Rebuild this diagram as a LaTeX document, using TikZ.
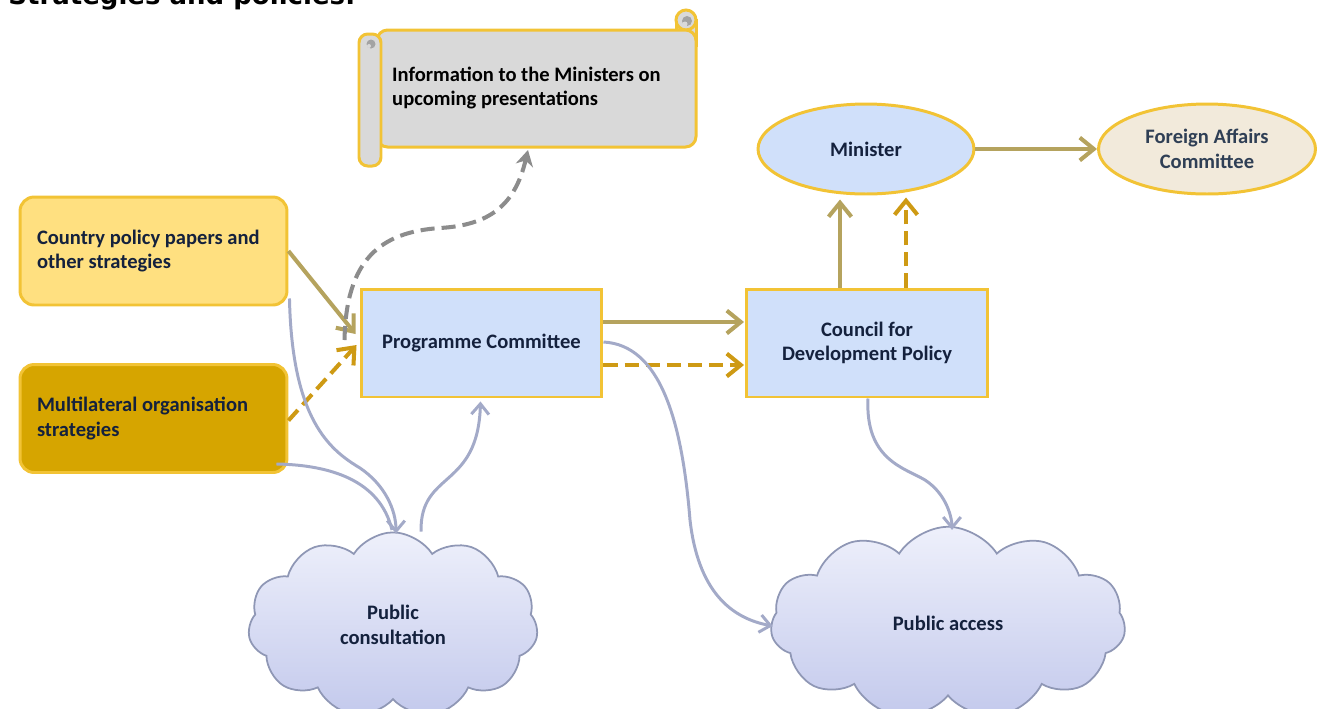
\documentclass[tikz,border=0pt]{standalone}
\usepackage{fontspec}
\setmainfont{Carlito}
\newfontfamily\titlefont{DejaVu Sans}
\usetikzlibrary{shapes.geometric,shapes.symbols,arrows.meta,calc}
\definecolor{goldline}{HTML}{F2C335}
\definecolor{khaki}{HTML}{B5A35E}
\definecolor{dgold}{HTML}{CE9A14}
\definecolor{dgray}{HTML}{8C8C8C}
\definecolor{bgray}{HTML}{A3AAC8}
\definecolor{navy}{HTML}{14213D}
\definecolor{slate}{HTML}{2F3F55}
\definecolor{lblue}{HTML}{D0E0FA}
\definecolor{lyellow}{HTML}{FFE080}
\definecolor{mgold}{HTML}{D6A500}
\definecolor{beige}{HTML}{F2EADB}
\definecolor{scrollgray}{HTML}{D9D9D9}
\definecolor{cloudline}{HTML}{8F97B5}
\definecolor{cloudtop}{HTML}{EEF0FB}
\definecolor{cloudbot}{HTML}{C3C9EC}
\begin{document}
\begin{tikzpicture}[x=0.02cm,y=-0.02cm,
  txt/.style={font=\bfseries\fontsize{11.7}{14}\selectfont, text=navy},
  box/.style={txt, draw=goldline, line width=1.7pt, minimum width=4.82cm, minimum height=2.16cm, fill=lblue, align=center},
  srcbox/.style={txt, draw=goldline, line width=1.7pt, rounded corners=8pt, minimum width=5.34cm, minimum height=2.16cm, text width=4.66cm, inner xsep=0.34cm, align=flush left},
  ell/.style={txt, ellipse, draw=goldline, line width=1.7pt, minimum width=4.32cm, minimum height=1.8cm, align=center},
  cloudst/.style={txt, cloud, cloud puffs=11, cloud puff arc=115, draw=cloudline, line width=1pt, top color=cloudtop, bottom color=cloudbot, align=center},
  kharr/.style={draw=khaki, line width=2.3pt, -{Straight Barb[length=8pt,width=13pt]}},
  goldarr/.style={draw=dgold, line width=2.3pt, dash pattern=on 8pt off 4pt, -{Straight Barb[length=8pt,width=13pt]}},
  grayarr/.style={draw=dgray, line width=2.3pt, dash pattern=on 8pt off 4pt, -{Stealth[length=9pt,width=10pt]}},
  bluearr/.style={draw=bgray, line width=1.7pt, -{Straight Barb[length=6pt,width=10pt]}},
  scrollst/.style={fill=scrollgray, draw=goldline, line width=1.7pt}
]
\useasboundingbox (0,0) rectangle (1319,708);

% title (cut off at top)
\node[anchor=base west, inner sep=0pt, font=\titlefont\bfseries\fontsize{14.8}{17}\selectfont] (title) at (8,4) {Strategies and policies:};

% scroll
\filldraw[scrollst] (676,20) rectangle (696,45);
\filldraw[scrollst] (686,20) circle[radius=0.2cm];
\filldraw[scrollst, rounded corners=6pt] (377,30) rectangle (696,147);
\filldraw[fill=dgray!80, draw=none] (687,21) circle[radius=0.1cm];
\filldraw[fill=scrollgray, draw=none] (685,24) circle[radius=0.05cm];
\filldraw[scrollst, rounded corners=5pt] (359,34) rectangle (381,166);
\filldraw[fill=dgray!80, draw=none] (371,44) circle[radius=0.09cm];
\filldraw[fill=scrollgray, draw=none] (369,46) circle[radius=0.04cm];
\node[txt, text=black, anchor=west, align=left] (info) at (386,88) {Information to the Ministers on\\upcoming presentations};
\coordinate (infotip) at (528,150);

% boxes
\node[srcbox, fill=lyellow] (country) at (153.5,251) {Country policy papers and\\other strategies};
\node[srcbox, fill=mgold] (multi) at (153.5,418.5) {Multilateral organisation\\strategies};
\node[box] (prog) at (481.5,343) {Programme Committee};
\node[box] (council) at (867,343) {Council for\\Development Policy};
\node[ell, fill=lblue] (minister) at (866,149) {Minister};
\node[ell, fill=beige, minimum width=4.34cm, text=slate] (foreign) at (1207,149) {Foreign Affairs\\Committee};

% clouds
\node[cloudst, minimum width=5.8cm, minimum height=3.3cm] (pubcons) at (393,625) {Public\\consultation};
\node[cloudst, minimum width=7.1cm, minimum height=3.25cm] (pubacc) at (948,623) {Public access};

% connectors
\draw[kharr] (country.east) -- ($(prog.west)+(-4,-9)$);
\draw[goldarr] ($(multi.east)+(0,2)$) -- ($(prog.west)+(-3,2)$);
\draw[grayarr] ($(prog.west)+(-15,-3)$) .. controls (346,260) and (380,232) .. (440,228) .. controls (490,225) and (515,205) .. (infotip);
\draw[kharr] ($(prog.east)+(0,-21)$) -- ($(council.west)+(-1,-21)$);
\draw[goldarr] ($(prog.east)+(0,22)$) -- ($(council.west)+(-1,22)$);
\draw[kharr] ($(council.north)+(-27,0)$) -- ($(minister.south)+(-26,4)$);
\draw[goldarr] ($(council.north)+(39,0)$) -- ($(minister.south)+(40,2)$);
\draw[kharr] (minister.east) -- (foreign.west);

\draw[bluearr] ($(country.south east)+(1,-8)$) .. controls (292,420) and (330,450) .. (360,468) .. controls (385,485) and (396,510) .. ($(pubcons.north)+(3,2)$);
\draw[bgray, line width=1.7pt] ($(multi.south east)+(-12,-10)$) .. controls (330,465) and (380,480) .. (392,530);
\draw[bluearr] ($(pubcons.north)+(28,0)$) .. controls (420,470) and (478,490) .. ($(prog.south)+(-1,3)$);
\draw[bluearr] ($(prog.east)+(0,-1)$) .. controls (660,345) and (682,420) .. (690,520) .. controls (698,590) and (730,618) .. ($(pubacc.west)+(2,3)$);
\draw[bluearr] ($(council.south)+(1,0)$) .. controls (865,460) and (905,468) .. (925,480) .. controls (948,495) and (952,520) .. ($(pubacc.north)+(4,4)$);
\end{tikzpicture}
\end{document}
